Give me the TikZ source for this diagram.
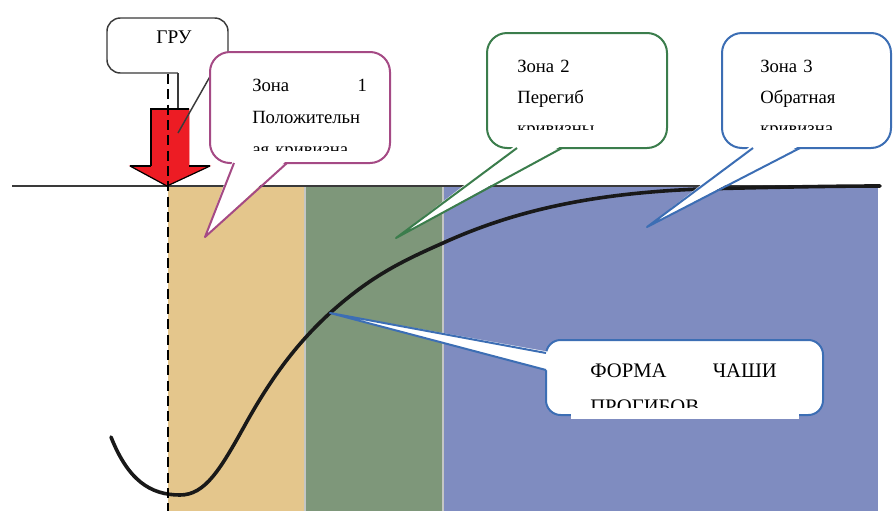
\documentclass[tikz,border=0pt]{standalone}
\usepackage{fontspec}
\setmainfont{Liberation Serif}
\definecolor{ztan}{HTML}{E4C68C}
\definecolor{zgreen}{HTML}{7E977A}
\definecolor{zblue}{HTML}{7F8CC0}
\definecolor{zsep}{HTML}{C4C6C4}
\definecolor{cmag}{HTML}{A54A85}
\definecolor{cgreen}{HTML}{3B7D4C}
\definecolor{cblue}{HTML}{3C6EB4}
\definecolor{cgray}{HTML}{3A3A3A}
\definecolor{ared}{HTML}{ED1C24}
\begin{document}
\begin{tikzpicture}[x=0.75pt,y=-0.75pt,
  boxline/.style={line width=1.5pt,line join=round},
  lbl/.style={inner sep=0pt,anchor=base west,align=left},
  zfont/.style={font=\fontsize{14}{24}\selectfont},
]
\useasboundingbox (0,0) rectangle (896,511);

% zones
\fill[ztan] (168,186) rectangle (305,511);
\fill[zgreen] (305,186) rectangle (443,511);
\fill[zblue] (443,186) rectangle (878,511);
\draw[zsep,line width=1.2pt] (305,187) -- (305,511);
\draw[zsep,line width=1.5pt] (443,187) -- (443,511);

% ground line
\coordinate (gl) at (12,186);
\coordinate (gr) at (880,186);
\draw[cgray,line width=1.1pt] (gl) -- (gr);

% deflection curve
\draw[black!90,line width=2.7pt,line cap=round]
  (111,437) .. controls (128,480) and (150,495) .. (180,495)
  .. controls (205,495) and (220,470) .. (245,425)
  .. controls (270,380) and (295,345) .. (330,313)
  .. controls (370,277) and (400,262) .. (443,243)
  .. controls (520,208) and (600,193) .. (700,189)
  .. controls (780,187) and (840,186) .. (880,186);

% tips of callouts
\coordinate (tipgru) at (178,133);
\coordinate (tipz1) at (205,237);
\coordinate (tipz2) at (396,238);
\coordinate (tipz3) at (647,227);
\coordinate (tipform) at (330,313);

% GRU callout
\draw[cgray,line width=1.1pt,fill=white,rounded corners=10pt] (107,18) rectangle (228,73);
\fill[white] (178,71) -- (212,71) -- (tipgru) -- cycle;
\draw[cgray,line width=1.1pt] (178,73) -- (tipgru);
\node[inner sep=0pt,anchor=base,font=\fontsize{14.5}{16}\selectfont] (gru) at (174,43) {ГРУ};

% red arrow
\draw[ared,fill=ared,line width=0.4pt] (151,109) -- (189,109) -- (189,166) -- (210,166) -- (167,186) -- (130,166) -- (151,166) -- cycle;
\draw[black,line width=0.9pt,line join=miter] (151,166) -- (151,109) -- (189,109);
\draw[black,line width=0.9pt] (130,166) -- (151,166);
\draw[black,line width=0.9pt] (189,166) -- (210,166);
\draw[black,line width=0.9pt] (130,166) -- (167,186) -- (210,166);
\draw[cgray,line width=1.1pt] (212,73) -- (tipgru);

% dashed axis
\coordinate (dtop) at (168,74);
\coordinate (dbot) at (168,511);
\draw[black,line width=1.2pt,dash pattern=on 7.5pt off 4pt] (dtop) -- (dbot);

% Zone 1 callout
\draw[cmag,boxline,fill=white,rounded corners=15pt] (210,52) rectangle (390,163);
\fill[white] (233,160) -- (287,160) -- (tipz1) -- cycle;
\draw[cmag,boxline] (234,163) -- (tipz1) -- (287,163);
\begin{scope}
\clip (240,60) rectangle (385,150);
\node[lbl,zfont,text width=86pt] (z1) at (252,91) {Зона\hfill 1\\Положительн\\ая кривизна};
\end{scope}

% Zone 2 callout
\draw[cgreen,boxline,fill=white,rounded corners=15pt] (487,33) rectangle (667,148);
\fill[white] (516,145) -- (563,145) -- (tipz2) -- cycle;
\draw[cgreen,boxline] (517,148) -- (tipz2) -- (562,148);
\begin{scope}
\clip (495,40) rectangle (660,129.5);
\node[lbl,text width=100pt,font=\fontsize{14}{23.25}\selectfont] (z2) at (517,72) {Зона 2\\Перегиб\\кривизны};
\end{scope}

% Zone 3 callout
\draw[cblue,boxline,fill=white,rounded corners=15pt] (722,33) rectangle (891,148);
\fill[white] (752,145) -- (801,145) -- (tipz3) -- cycle;
\draw[cblue,boxline] (753,148) -- (tipz3) -- (800,148);
\begin{scope}
\clip (730,40) rectangle (885,129.5);
\node[lbl,text width=95pt,font=\fontsize{14}{23.25}\selectfont] (z3) at (760,72) {Зона 3\\Обратная\\кривизна};
\end{scope}

% Shape callout
\draw[cblue,boxline,fill=white,rounded corners=11pt] (546,340) rectangle (823,415);
\fill[white] (550,352) -- (550,371) -- (tipform) -- cycle;
\draw[cblue,boxline] (546,353) -- (tipform) -- (546,370);
\node[lbl,text width=140pt,font=\fontsize{15.5}{27}\selectfont] (form) at (590,377) {ФОРМА\hfill ЧАШИ\\ПРОГИБОВ};
\fill[white] (571,408) rectangle (799,419);

\end{tikzpicture}
\end{document}
